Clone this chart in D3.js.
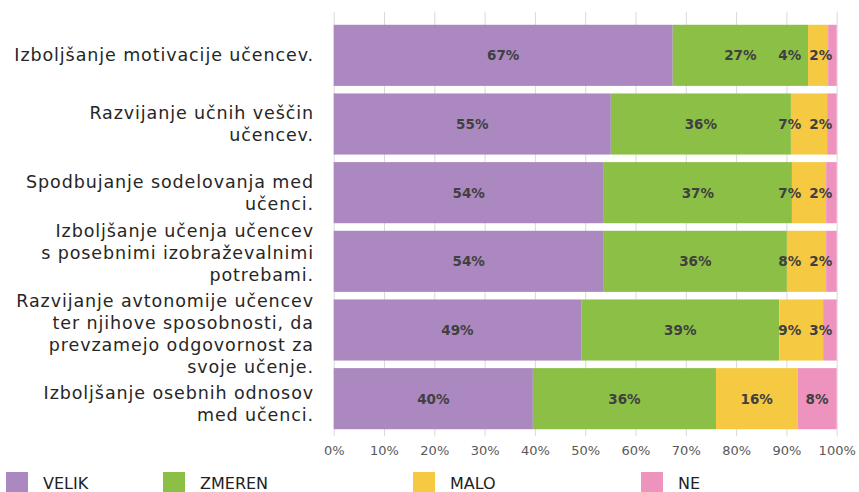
<!DOCTYPE html>
<html>
<head>
<meta charset="utf-8">
<script src="https://cdn.jsdelivr.net/npm/d3@7"></script>
<style>
  body { margin: 0; background: #fff; }
  svg { display: block; font-family: "DejaVu Sans", sans-serif; }
</style>
</head>
<body>
<div id="wrapper"></div>
<script>
// 1. Data

const categories = [
  ['Izboljšanje motivacije učencev.'],
  ['Razvijanje učnih veščin', 'učencev.'],
  ['Spodbujanje sodelovanja med', 'učenci.'],
  ['Izboljšanje učenja učencev', 's posebnimi izobraževalnimi', 'potrebami.'],
  ['Razvijanje avtonomije učencev', 'ter njihove sposobnosti, da', 'prevzamejo odgovornost za', 'svoje učenje.'],
  ['Izboljšanje osebnih odnosov', 'med učenci.'],
];
const seriesNames = ['VELIK', 'ZMEREN', 'MALO', 'NE'];
const velik = [67.4, 55.1, 53.7, 53.7, 49.2, 39.6];
const zmeren = [26.9, 35.8, 37.4, 36.4, 39.4, 36.4];
const malo = [4.0, 7.2, 6.8, 7.8, 8.7, 16.2];
const ne = [1.7, 1.9, 2.1, 2.1, 2.7, 7.8];
const ticks = [0, 10, 20, 30, 40, 50, 60, 70, 80, 90, 100];
const colors = ['#ac88c0', '#8cbf46', '#f5ca42', '#ee93be'];

const rows = categories.map((c, i) => ({
  key: c.join(' '),
  lines: c,
  VELIK: velik[i],
  ZMEREN: zmeren[i],
  MALO: malo[i],
  NE: ne[i],
}));

// 2. Dimensions

const width = 859;
const height = 492;

const svg = d3
  .select('#wrapper')
  .append('svg')
  .attr('width', width)
  .attr('height', height);

// 3. Scales

const x = d3.scaleLinear().domain([0, 100]).range([333.7, 836.7]);
const y = d3
  .scaleBand()
  .domain(rows.map(d => d.key))
  .range([21, 433])
  .paddingInner(0.11)
  .paddingOuter(0.055);
const color = d3.scaleOrdinal().domain(seriesNames).range(colors);

// 4. Grid + axis

const axis = svg
  .append('g')
  .attr('transform', 'translate(0,436)')
  .call(
    d3
      .axisBottom(x)
      .tickValues(ticks)
      .tickSize(-424)
      .tickPadding(10)
      .tickFormat(d => d + '%')
  );
axis.select('.domain').remove();
axis.selectAll('.tick line').attr('stroke', '#d9d9d9').attr('stroke-width', 1);
axis
  .selectAll('.tick text')
  .attr('fill', '#595959')
  .style('font-size', '13px')
  .style('font-family', '"DejaVu Sans", sans-serif');

// 5. Bars

const stack = d3.stack().keys(seriesNames)(rows);

const layers = svg
  .selectAll('.layer')
  .data(stack)
  .enter()
  .append('g')
  .attr('fill', d => color(d.key));

layers
  .selectAll('rect')
  .data(d => d)
  .enter()
  .append('rect')
  .attr('x', d => x(d[0]))
  .attr('y', d => y(d.data.key))
  .attr('width', d => x(d[1]) - x(d[0]))
  .attr('height', y.bandwidth());

// value labels, nudged left so the small ones don't collide
rows.forEach((r, i) => {
  const segs = stack.map(s => s[i]);
  let pos = segs.map(s => (x(s[0]) + x(s[1])) / 2);
  let limit = x(100) - 16;
  for (let k = pos.length - 1; k >= 0; k--) {
    pos[k] = Math.min(pos[k], limit);
    limit = pos[k] - 31;
  }
  segs.forEach((s, k) => {
    svg
      .append('text')
      .attr('x', pos[k])
      .attr('y', y(r.key) + y.bandwidth() / 2)
      .attr('dy', '0.36em')
      .attr('text-anchor', 'middle')
      .attr('fill', '#404040')
      .style('font-size', '13.5px')
      .style('font-weight', 'bold')
      .text(Math.round(s[1] - s[0]) + '%');
  });
});

// 6. Category labels (blocks pushed apart when they would touch)

const lineH = 22;
const blocks = rows.map(r => ({
  r,
  cy: y(r.key) + y.bandwidth() / 2,
  half: (r.lines.length * lineH) / 2,
}));
for (let it = 0; it < 10; it++) {
  for (let i = 0; i < blocks.length - 1; i++) {
    const a = blocks[i];
    const b = blocks[i + 1];
    const overlap = a.cy + a.half + 4 - (b.cy - b.half);
    if (overlap > 0) {
      a.cy -= overlap / 2;
      b.cy += overlap / 2;
    }
  }
}

blocks.forEach(b => {
  const n = b.r.lines.length;
  const t = svg
    .append('text')
    .attr('text-anchor', 'end')
    .attr('fill', '#262626')
    .style('font-size', '17.5px')
    .style('letter-spacing', '0.9px');
  b.r.lines.forEach((line, j) => {
    t.append('tspan')
      .attr('x', 314)
      .attr('y', b.cy + (j - (n - 1) / 2) * lineH)
      .attr('dy', '0.35em')
      .text(line);
  });
});

// 7. Legend

const legendX = [6, 163, 413, 641];
const legend = svg
  .selectAll('.legend')
  .data(seriesNames)
  .enter()
  .append('g')
  .attr('transform', (d, i) => `translate(${legendX[i]},472)`);

legend
  .append('rect')
  .attr('width', 22)
  .attr('height', 22)
  .attr('fill', d => color(d));

legend
  .append('text')
  .attr('x', 37)
  .attr('y', 11)
  .attr('dy', '0.35em')
  .attr('fill', '#222')
  .style('font-size', '16px')
  .text(d => d);
</script>
</body>
</html>
